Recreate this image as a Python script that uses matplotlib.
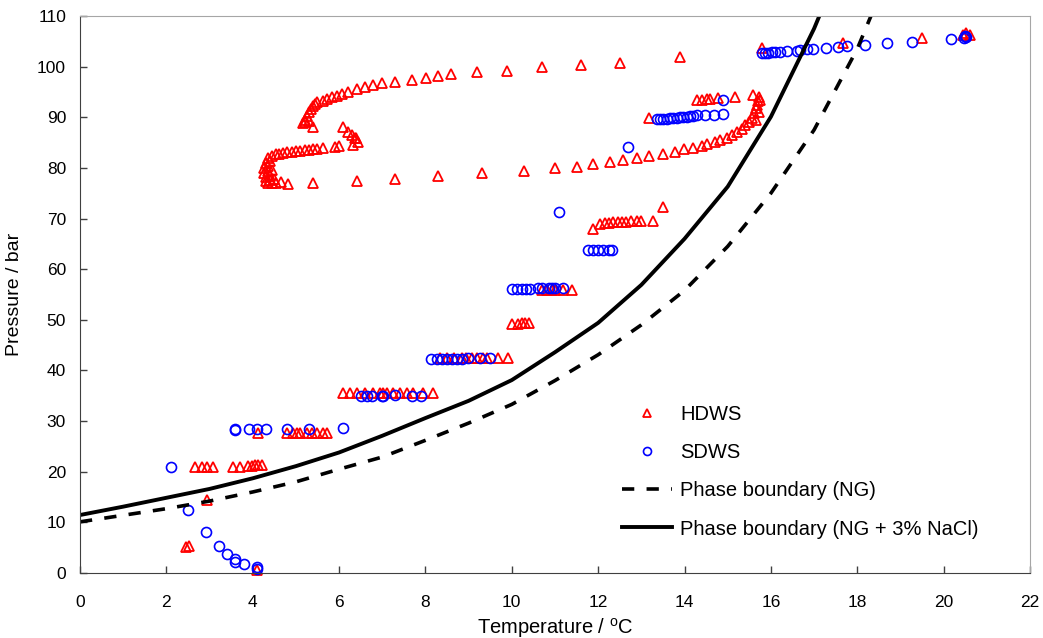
import matplotlib
matplotlib.use('Agg')
import matplotlib.pyplot as plt

#Hydrate formation points, heavy duty water system
hdws_temp = [2.45, 2.52, 2.93,
             2.66, 2.82, 2.94, 3.08, 3.54, 3.71, 3.89, 3.98, 4.05, 4.12, 4.21,
             4.11, 4.12,
             4.79, 4.93, 5.03, 5.10, 5.26, 5.37, 5.49, 5.63, 5.72,
             6.09, 6.25, 6.41, 6.60, 6.79, 6.95, 7.02, 7.11, 7.25, 7.41, 7.57, 7.71, 7.94, 8.18,
             8.34, 8.49, 8.65, 8.84, 8.95, 9.07, 9.19, 9.34, 9.42, 9.69, 9.92,
             10.00, 10.15, 10.24, 10.31, 10.40,
             10.70, 10.81, 10.93, 11.00, 11.19, 11.39,
             11.88, 12.05, 12.15, 12.25, 12.35, 12.45, 12.55, 12.65, 12.75, 12.90, 13.00, 13.27, 13.50,
             13.18, 14.29, 14.40, 14.52, 14.59, 14.78, 15.17, 15.59,
             4.35, 4.45, 4.55, 4.30, 4.40, 4.50, 4.65, 4.30, 4.40, 4.25, 4.35, 4.45, 4.25, 4.35,
             4.30, 4.40, 4.35, 4.45, 4.55, 4.82,
             5.40, 6.41, 7.30, 8.30, 9.30, 10.29, 11.00, 11.51, 11.88, 12.27, 12.58, 12.90, 13.18,
             13.50, 13.78, 13.99, 14.20, 14.40, 14.52, 14.71, 14.82, 14.98, 15.10, 15.21, 15.33,
             15.40, 15.49, 15.56, 15.62, 15.66, 15.68, 15.70, 15.72, 15.75, 15.73, 15.65,
             4.60, 4.70, 4.80, 4.90, 5.00, 5.10, 5.20, 5.30, 5.40, 5.50, 5.62, 5.90, 6.00,
             6.09, 6.20, 6.30, 6.37, 6.44, 6.32, 6.40,
             5.16, 5.40, 5.20, 5.25, 5.30, 5.35, 5.40, 5.45, 5.50, 5.20, 5.30,
             5.63, 5.72, 5.84, 5.95, 6.07, 6.20, 6.41, 6.60, 6.79, 6.99, 7.30, 7.69, 8.01, 8.29,
             8.59, 9.19, 9.89, 10.70, 11.60, 12.50, 13.90,
             15.79, 17.67, 19.50, 20.45, 20.52, 20.60]
hdws_pres = [5.1, 5.3, 14.5,
             21.0, 21.0, 21.0, 21.0, 21.0, 21.0, 21.1, 21.2, 21.3, 21.4, 21.3,
             0.6, 27.6,
             27.7, 27.7, 27.7, 27.7, 27.7, 27.7, 27.7, 27.7, 27.7,
             35.5, 35.5, 35.5, 35.5, 35.5, 35.5, 35.5, 35.5, 35.5, 35.5, 35.6, 35.6, 35.6, 35.6,
             42.4, 42.4, 42.4, 42.4, 42.4, 42.4, 42.4, 42.4, 42.4, 42.4, 42.4,
             49.2, 49.2, 49.3, 49.3, 49.3,
             55.9, 55.9, 55.9, 55.9, 55.9, 55.9,
             68.0, 69.0, 69.1, 69.2, 69.3, 69.3, 69.3, 69.4, 69.5, 69.5, 69.5, 69.6, 72.3,
             89.8, 93.4, 93.5, 93.6, 93.6, 93.8, 94.0, 94.4,
             77.0, 77.0, 77.0, 77.5, 77.6, 77.8, 77.2, 78.2, 78.5, 79.0, 79.3, 79.5, 80.0, 80.4,
             81.0, 81.3, 81.9, 82.3, 82.7, 76.8,
             77.1, 77.5, 77.9, 78.4, 78.9, 79.4, 79.9, 80.2, 80.8, 81.2, 81.6, 82.0, 82.3,
             82.7, 83.1, 83.7, 83.9, 84.3, 84.7, 85.1, 85.5, 86.0, 86.5, 87.1, 87.7,
             88.4, 89.1, 89.8, 90.9, 91.8, 92.5, 93.2, 94.0, 93.5, 91.0, 89.5,
             82.8, 83.0, 83.1, 83.2, 83.3, 83.4, 83.5, 83.6, 83.7, 83.8, 83.9, 84.1, 84.3,
             88.1, 87.1, 86.5, 85.9, 85.1, 84.5, 86.0,
             88.9, 88.1, 89.5, 90.3, 91.0, 91.6, 92.2, 92.7, 93.1, 89.0, 89.3,
             93.3, 93.6, 94.0, 94.2, 94.6, 95.0, 95.6, 96.0, 96.4, 96.8, 97.0, 97.4, 97.8, 98.2,
             98.5, 98.9, 99.1, 99.9, 100.3, 100.8, 102.0,
             103.7, 104.6, 105.6, 106.2, 106.6, 106.2]

#Hydrate formation points, standard duty water system
sdws_temp = [2.10, 2.50, 2.91, 3.22, 3.41, 3.60, 3.60, 3.80, 4.11, 4.11,
             3.60, 3.60, 3.91, 4.11, 4.31, 4.80, 5.30, 6.10,
             6.50, 6.64, 6.76, 6.99, 7.02, 7.30, 7.68, 7.89,
             8.14, 8.26, 8.38, 8.49, 8.61, 8.72, 8.84, 8.99, 9.26, 9.50,
             10.00, 10.11, 10.23, 10.34, 10.42, 10.61, 10.69, 10.85, 10.92, 11.00, 11.19,
             11.77, 11.89, 12.00, 12.12, 12.24, 12.31,
             11.09, 12.68,
             13.36, 13.43, 13.51, 13.59, 13.66, 13.74, 13.82, 13.89, 13.97, 14.05, 14.12,
             14.20, 14.28, 14.47, 14.69, 14.90, 14.88,
             15.79, 15.86, 15.93, 16.03, 16.10, 16.21, 16.37, 16.60, 16.67, 16.84, 16.98,
             17.28, 17.55, 17.76, 18.18, 18.69, 19.27, 20.17, 20.47, 20.50, 20.52]
sdws_pres = [21.0, 12.4, 8.0, 5.3, 3.75, 2.7, 2.2, 1.7, 1.1, 0.8,
             28.2, 28.4, 28.4, 28.4, 28.5, 28.4, 28.5, 28.6,
             35.0, 35.0, 35.0, 35.0, 35.0, 35.1, 35.0, 35.0,
             42.3, 42.3, 42.3, 42.3, 42.3, 42.3, 42.3, 42.4, 42.4, 42.4,
             56.1, 56.1, 56.1, 56.1, 56.1, 56.2, 56.2, 56.2, 56.2, 56.2, 56.3,
             63.8, 63.8, 63.8, 63.8, 63.8, 63.8,
             71.3, 84.1,
             89.6, 89.6, 89.7, 89.7, 89.8, 89.8, 89.9, 90.0, 90.0, 90.1, 90.2,
             90.3, 90.4, 90.4, 90.5, 90.7, 93.5,
             102.7, 102.7, 102.7, 102.9, 102.9, 102.9, 103.1, 103.1, 103.3, 103.5, 103.5,
             103.7, 103.9, 104.1, 104.3, 104.7, 104.9, 105.5, 105.7, 106.0, 105.8]

#Phase boundaries
pb_temp = [0, 1, 2, 3, 4, 5, 6, 7, 8, 9, 10, 11, 12, 13, 14, 15, 16, 17, 18, 19]
ng_pres = [10.1, 11.4, 12.7, 14.2, 16.0, 18.0, 20.5, 22.9, 26.2, 29.6,
           33.3, 38.0, 43.1, 49.0, 55.8, 64.5, 75.0, 87.5, 103.5, 124.0]
nacl_pres = [11.45, 13.1, 14.85, 16.6, 18.7, 21.1, 23.8, 27.1, 30.6, 34.0,
             38.1, 43.6, 49.4, 56.9, 66.0, 76.3, 90.1, 107.5, 128.0, 150.0]

plt.rcParams['font.family'] = ['Liberation Sans', 'DejaVu Sans']
plt.rcParams['mathtext.fontset'] = 'custom'
plt.rcParams['mathtext.rm'] = 'Liberation Sans'

fig = plt.figure(figsize=(10.43, 6.38), dpi=100)
ax = fig.add_axes([0.0767, 0.1019, 0.9108, 0.8730])

#Experimental points
ax.plot(hdws_temp, hdws_pres, linestyle='none', marker='^', ms=7.5, mfc='none',
        mec='#ff0000', mew=1.3, label='HDWS', clip_on=False)
ax.plot(sdws_temp, sdws_pres, linestyle='none', marker='o', ms=7.2, mfc='none',
        mec='#0000ff', mew=1.2, label='SDWS', clip_on=False)

#Phase boundary curves
ax.plot(pb_temp, ng_pres, color='black', lw=2.6, ls=(0, (3.4, 3.4)),
        label='Phase boundary (NG)')
ax.plot(pb_temp, nacl_pres, color='black', lw=2.8,
        label='Phase boundary (NG + 3% NaCl)')

ax.set_xlim(0, 22)
ax.set_ylim(0, 110)
ax.set_xticks(range(0, 23, 2))
ax.set_yticks(range(0, 111, 10))
ax.tick_params(direction='in', length=5, width=1, labelsize=12.5, colors='#404040',
               labelcolor='black')
ax.tick_params(axis='x', pad=16)
ax.tick_params(axis='y', pad=10)

ax.spines['left'].set_color('#404040')
ax.spines['bottom'].set_color('#404040')
ax.spines['top'].set_color('#a6a6a6')
ax.spines['right'].set_color('#a6a6a6')

ax.set_xlabel('Temperature / $^{\\mathrm{o}}$C', fontsize=14.5, labelpad=4)
ax.set_ylabel('Pressure / bar', fontsize=14, labelpad=10)

ax.legend(loc='upper left', bbox_to_anchor=(0.5964, 0.3650), bbox_transform=fig.transFigure,
          frameon=False, fontsize=14.5, handlelength=2.5, handletextpad=0.4,
          labelspacing=0.95, borderpad=0, borderaxespad=0, markerscale=0.8)

fig.savefig('out.png', dpi=100)
